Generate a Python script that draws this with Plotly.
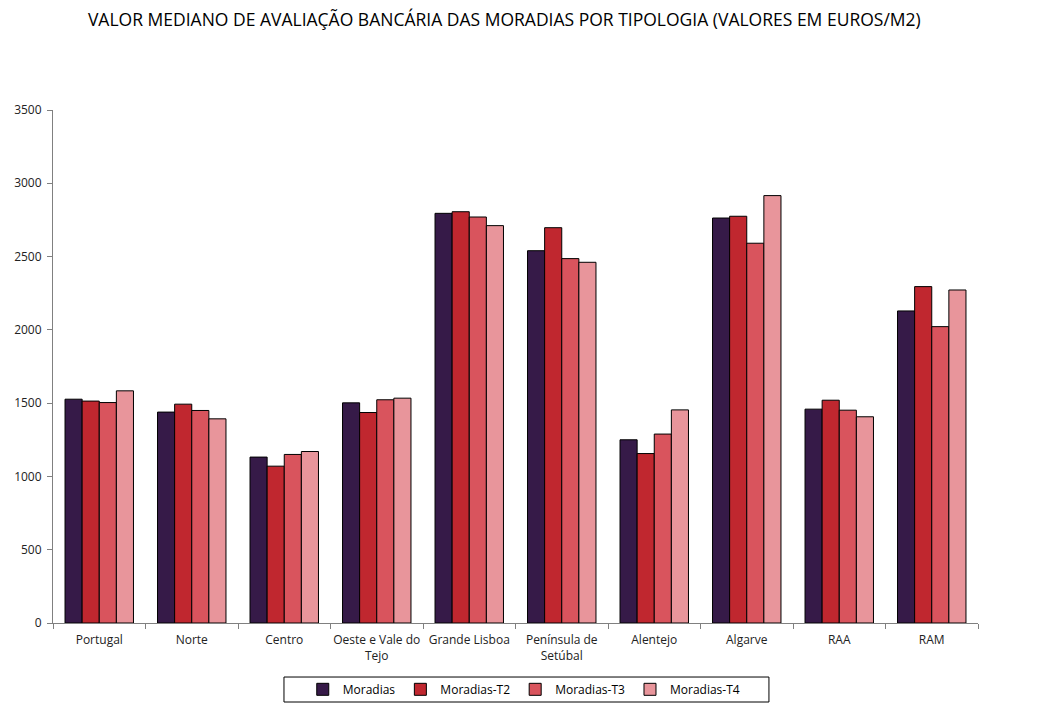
import plotly.graph_objs as go

# Regions (x axis categories)
regions = ['Portugal', 'Norte', 'Centro', 'Oeste e Vale do<br>Tejo', 'Grande Lisboa',
           'Península de<br>Setúbal', 'Alentejo', 'Algarve', 'RAA', 'RAM']

# Median bank valuation, euros/m2
moradias = [1527, 1439, 1132, 1502, 2795, 2540, 1250, 2763, 1459, 2129]
moradias_t2 = [1514, 1493, 1070, 1436, 2806, 2697, 1156, 2775, 1520, 2295]
moradias_t3 = [1504, 1450, 1150, 1523, 2770, 2486, 1289, 2591, 1452, 2022]
moradias_t4 = [1584, 1393, 1170, 1534, 2711, 2461, 1454, 2916, 1407, 2272]

series = [('Moradias', moradias, '#361A48'),
          ('Moradias-T2', moradias_t2, '#C0272F'),
          ('Moradias-T3', moradias_t3, '#D9545D'),
          ('Moradias-T4', moradias_t4, '#E8959B')]

data = []
for name, values, color in series:
    trace = go.Bar(name=name, x=regions, y=values, marker_color=color,
                   marker_line=dict(color='black', width=1))
    data.append(trace)

layout = {
    "title": dict(text='VALOR MEDIANO DE AVALIAÇÃO BANCÁRIA DAS MORADIAS POR TIPOLOGIA (VALORES EM EUROS/M2)',
                  x=0.474, xanchor='center', y=0.972, yanchor='middle',
                  font=dict(size=17.5, color='black')),
    "font": dict(family='Open Sans', size=12, color='#222222'),
    "width": 1064,
    "height": 718,
    "margin": dict(l=53, r=86, t=110, b=95, autoexpand=False),
    "plot_bgcolor": 'white',
    "paper_bgcolor": 'white',
    "barmode": 'group',
    "bargap": 0.26,
    "bargroupgap": 0,
    "showlegend": True,
    "legend": dict(orientation='h', x=0.270, xanchor='left', y=-0.101, yanchor='top',
                   borderwidth=0, itemwidth=30, bgcolor='rgba(0,0,0,0)',
                   font=dict(size=12, color='black'), traceorder='normal'),
    # frame around the legend, wider than plotly's own legend border
    "shapes": [dict(type='rect', xref='paper', yref='paper', x0=0.2497, x1=0.774,
                    y0=-0.1053, y1=-0.154, line=dict(color='black', width=1))],
}

fig = go.Figure(data=data, layout=layout)
fig.update_yaxes(range=[0, 3500], dtick=500, showline=True, linecolor='#808080', linewidth=1,
                 ticks='outside', ticklen=5, tickcolor='#808080', showgrid=False, zeroline=False,
                 ticklabelstandoff=3)
fig.update_xaxes(showline=True, linecolor='#808080', linewidth=1, ticks='outside', ticklen=5,
                 tickcolor='#808080', tickson='boundaries', showgrid=False, tickangle=0,
                 ticklabelstandoff=6)

fig.write_html("out.html", config={'displayModeBar': False},
               post_script="document.body.style.margin='0';document.body.style.overflow='hidden';")
